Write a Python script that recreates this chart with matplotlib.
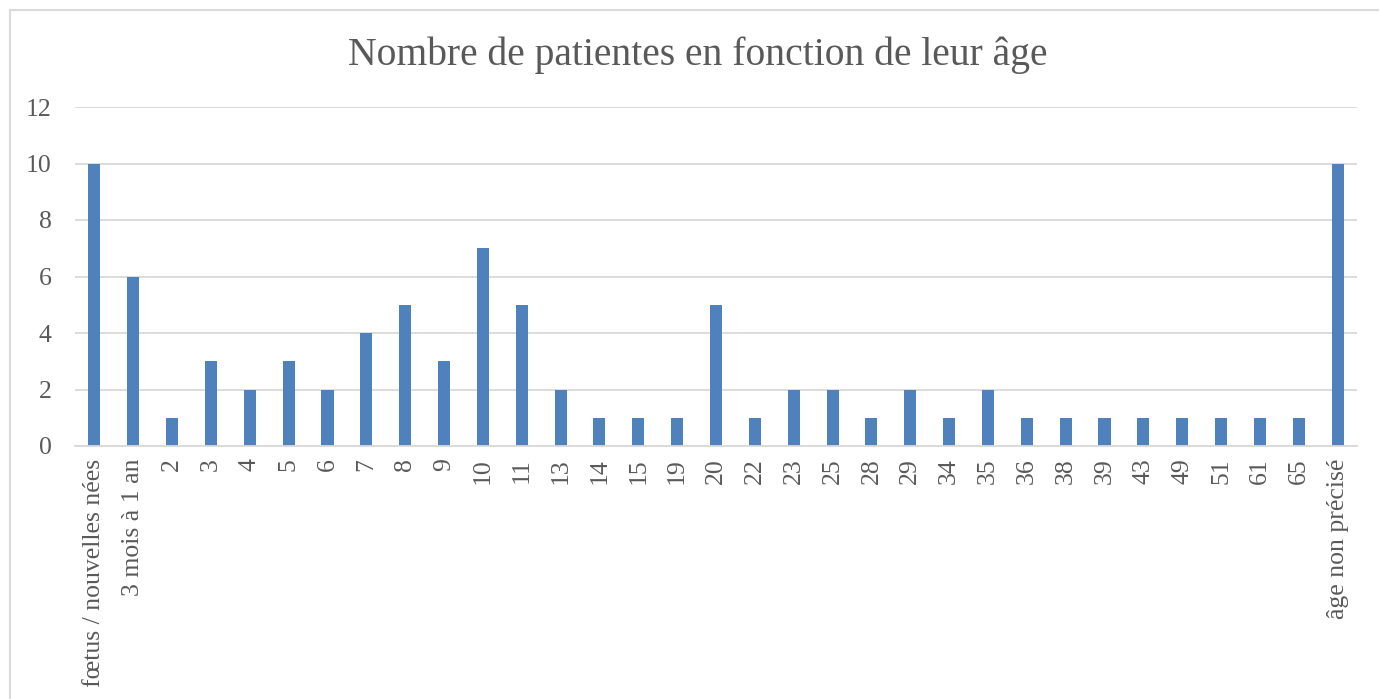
import matplotlib.pyplot as plt
from matplotlib.lines import Line2D
import numpy as np

# categories (age groups) and number of patients
categories = ['fœtus / nouvelles nées', '3 mois à 1 an', '2', '3', '4', '5', '6', '7', '8', '9',
              '10', '11', '13', '14', '15', '19', '20', '22', '23', '25', '28', '29', '34', '35',
              '36', '38', '39', '43', '49', '51', '61', '65', 'âge non précisé']
patientes = [10, 6, 1, 3, 2, 3, 2, 4, 5, 3,
             7, 5, 2, 1, 1, 1, 5, 1, 2, 2, 1, 2, 1, 2,
             1, 1, 1, 1, 1, 1, 1, 1, 10]
y_ticks = [0, 2, 4, 6, 8, 10, 12]

plt.rcParams['font.family'] = ['Liberation Serif', 'DejaVu Serif']
text_color = '#595959'
grid_color = '#d9d9d9'

fig = plt.figure(figsize=(13.79, 6.99), dpi=100)
ax = fig.add_axes([75 / 1379, 253 / 699, 1282 / 1379, 339 / 699])

x = np.arange(len(categories))
ax.bar(x, patientes, width=0.31, color='#4f81bd', zorder=3)

ax.set_xlim(-0.5, len(categories) - 0.5)
ax.set_ylim(0, 12)
ax.set_yticks(y_ticks)
ax.set_xticks(x)
ax.set_xticklabels(categories, rotation=90)
ax.tick_params(axis='both', length=0, labelsize=18.5, labelcolor=text_color)
ax.tick_params(axis='y', pad=17)
ax.tick_params(axis='x', pad=9)
ax.grid(axis='y', color=grid_color, linewidth=1.3, zorder=0)

for side in ['top', 'right', 'left']:
    ax.spines[side].set_visible(False)
ax.spines['bottom'].set_color(grid_color)
ax.spines['bottom'].set_linewidth(1.3)
ax.spines['bottom'].set_zorder(4)

fig.text(698 / 1379, 1 - 55 / 699, 'Nombre de patientes en fonction de leur âge',
         ha='center', va='center', fontsize=28.5, color=text_color)

# light frame of the chart area (only left and top visible in the crop)
fig.add_artist(Line2D([10 / 1379, 10 / 1379], [0, 1 - 10 / 699], color=grid_color, linewidth=1.5))
fig.add_artist(Line2D([10 / 1379, 1], [1 - 10 / 699, 1 - 10 / 699], color=grid_color, linewidth=1.5))

fig.savefig('out.png', dpi=100)
